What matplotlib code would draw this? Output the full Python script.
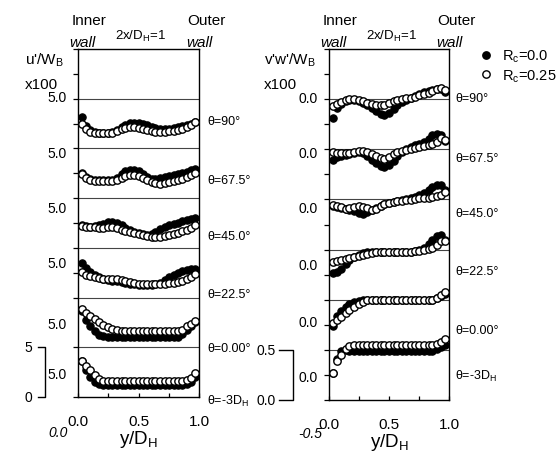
import numpy as np
import matplotlib
matplotlib.use("Agg")
from matplotlib import pyplot as plt
from matplotlib.ticker import FixedLocator, MultipleLocator

plt.rcParams['font.family'] = ['Liberation Sans', 'DejaVu Sans']
plt.rcParams['mathtext.default'] = 'regular'

# y/D_H positions of the measuring stations
yd = [0.03, 0.07, 0.10, 0.14, 0.17, 0.21, 0.25, 0.28, 0.32, 0.36, 0.39, 0.43, 0.46, 0.50,
      0.54, 0.57, 0.61, 0.64, 0.68, 0.72, 0.75, 0.79, 0.83, 0.86, 0.90, 0.93, 0.97]

stations = ['θ=-3D$_H$', 'θ=0.00°', 'θ=22.5°', 'θ=45.0°', 'θ=67.5°', 'θ=90°']

# u'/W_B x100, measured from the bottom of each band (bottom band first)
u_rc0 = [
    [3.6, 2.7, 2.0, 1.5, 1.3, 1.2, 1.2, 1.2, 1.2, 1.2, 1.2, 1.2, 1.2, 1.2,
     1.2, 1.2, 1.2, 1.2, 1.2, 1.2, 1.2, 1.2, 1.2, 1.2, 1.3, 1.5, 2.0],
    [3.6, 2.7, 2.1, 1.6, 1.2, 1.1, 1.0, 1.0, 1.0, 1.0, 1.0, 1.0, 1.0, 1.0,
     1.0, 1.0, 1.0, 1.0, 1.0, 1.0, 1.0, 1.0, 1.0, 1.3, 1.7, 2.1, 2.5],
    [3.5, 3.0, 2.6, 2.3, 2.1, 1.9, 1.8, 1.7, 1.7, 1.6, 1.5, 1.4, 1.4, 1.3,
     1.3, 1.3, 1.3, 1.4, 1.5, 1.8, 2.1, 2.3, 2.5, 2.7, 2.8, 2.9, 2.9],
    [2.3, 2.2, 2.1, 2.2, 2.3, 2.4, 2.6, 2.6, 2.5, 2.3, 2.0, 1.8, 1.6, 1.5,
     1.4, 1.3, 1.4, 1.6, 1.9, 2.1, 2.3, 2.4, 2.5, 2.7, 2.8, 2.9, 3.0],
    [2.5, 2.1, 1.9, 1.8, 1.8, 1.8, 1.8, 1.8, 2.0, 2.4, 2.7, 2.8, 2.8, 2.7,
     2.4, 2.1, 1.9, 1.9, 2.0, 2.1, 2.2, 2.3, 2.4, 2.5, 2.6, 2.8, 2.9],
    [3.2, 2.3, 1.9, 1.7, 1.6, 1.6, 1.6, 1.7, 1.9, 2.2, 2.4, 2.6, 2.6, 2.6,
     2.5, 2.4, 2.2, 2.1, 2.0, 2.0, 2.0, 2.1, 2.2, 2.3, 2.4, 2.5, 2.7],
]
u_rc25 = [
    [3.6, 3.1, 2.7, 2.2, 1.8, 1.6, 1.6, 1.6, 1.6, 1.6, 1.6, 1.6, 1.6, 1.6,
     1.6, 1.6, 1.6, 1.6, 1.6, 1.6, 1.6, 1.6, 1.6, 1.6, 1.7, 1.9, 2.4],
    [3.9, 3.4, 3.1, 2.8, 2.5, 2.2, 2.0, 1.8, 1.7, 1.6, 1.6, 1.6, 1.6, 1.6,
     1.6, 1.6, 1.6, 1.6, 1.6, 1.6, 1.6, 1.6, 1.6, 1.7, 2.1, 2.3, 2.6],
    [2.6, 2.3, 2.2, 2.1, 2.0, 1.9, 1.9, 1.9, 1.9, 1.8, 1.7, 1.6, 1.5, 1.4,
     1.4, 1.4, 1.4, 1.4, 1.4, 1.4, 1.5, 1.5, 1.6, 1.7, 1.9, 2.1, 2.4],
    [2.2, 2.1, 2.1, 2.1, 2.0, 2.0, 2.1, 2.1, 2.0, 1.8, 1.7, 1.6, 1.5, 1.4,
     1.3, 1.2, 1.1, 1.1, 1.1, 1.2, 1.3, 1.4, 1.5, 1.7, 1.8, 2.0, 2.3],
    [2.4, 2.0, 1.8, 1.7, 1.7, 1.7, 1.7, 1.7, 1.8, 2.0, 2.2, 2.3, 2.3, 2.2,
     2.0, 1.8, 1.6, 1.5, 1.4, 1.5, 1.6, 1.7, 1.8, 1.9, 2.1, 2.3, 2.5],
    [2.45, 2.0, 1.7, 1.6, 1.5, 1.5, 1.5, 1.6, 1.8, 2.0, 2.1, 2.2, 2.2, 2.1,
     2.0, 1.9, 1.8, 1.7, 1.7, 1.7, 1.8, 1.8, 1.9, 2.0, 2.2, 2.4, 2.7],
]

# v'w'/W_B x100, measured from the bottom of each band (bottom band first)
v_rc0 = [
    [0.27, 0.41, 0.49, 0.50, 0.49, 0.49, 0.49, 0.49, 0.49, 0.49, 0.49, 0.49, 0.49, 0.49,
     0.49, 0.49, 0.49, 0.49, 0.49, 0.49, 0.49, 0.49, 0.49, 0.49, 0.51, 0.53, 0.55],
    [0.24, 0.34, 0.39, 0.43, 0.46, 0.48, 0.49, 0.50, 0.50, 0.50, 0.50, 0.50, 0.50, 0.50,
     0.50, 0.50, 0.50, 0.50, 0.50, 0.50, 0.50, 0.50, 0.50, 0.50, 0.52, 0.54, 0.56],
    [0.27, 0.28, 0.31, 0.36, 0.40, 0.43, 0.45, 0.47, 0.48, 0.48, 0.48, 0.48, 0.48, 0.48,
     0.48, 0.48, 0.48, 0.48, 0.48, 0.49, 0.50, 0.52, 0.56, 0.60, 0.64, 0.65, 0.60],
    [0.43, 0.42, 0.41, 0.40, 0.39, 0.38, 0.36, 0.35, 0.37, 0.39, 0.41, 0.43, 0.45, 0.46,
     0.47, 0.48, 0.49, 0.50, 0.51, 0.52, 0.54, 0.56, 0.59, 0.62, 0.64, 0.64, 0.59],
    [0.39, 0.42, 0.43, 0.44, 0.45, 0.46, 0.47, 0.46, 0.43, 0.39, 0.36, 0.33, 0.32, 0.34,
     0.38, 0.43, 0.47, 0.50, 0.52, 0.54, 0.55, 0.57, 0.60, 0.64, 0.65, 0.64, 0.58],
    [0.31, 0.41, 0.45, 0.48, 0.49, 0.49, 0.48, 0.46, 0.44, 0.41, 0.38, 0.35, 0.34, 0.36,
     0.40, 0.44, 0.47, 0.49, 0.51, 0.53, 0.55, 0.57, 0.58, 0.59, 0.60, 0.60, 0.57],
]
v_rc25 = [
    [0.27, 0.39, 0.45, 0.51, 0.54, 0.55, 0.55, 0.55, 0.55, 0.55, 0.55, 0.55, 0.55, 0.55,
     0.55, 0.55, 0.55, 0.55, 0.55, 0.55, 0.55, 0.55, 0.55, 0.55, 0.56, 0.58, 0.61],
    [0.27, 0.30, 0.33, 0.37, 0.40, 0.43, 0.46, 0.48, 0.50, 0.50, 0.50, 0.50, 0.50, 0.50,
     0.50, 0.50, 0.50, 0.50, 0.50, 0.50, 0.50, 0.50, 0.50, 0.50, 0.52, 0.55, 0.58],
    [0.38, 0.39, 0.40, 0.41, 0.42, 0.43, 0.44, 0.45, 0.46, 0.47, 0.48, 0.48, 0.48, 0.48,
     0.48, 0.48, 0.48, 0.48, 0.48, 0.49, 0.49, 0.50, 0.51, 0.52, 0.55, 0.59, 0.59],
    [0.44, 0.43, 0.42, 0.40, 0.41, 0.42, 0.43, 0.42, 0.41, 0.39, 0.40, 0.43, 0.45, 0.46,
     0.47, 0.48, 0.48, 0.49, 0.49, 0.50, 0.51, 0.51, 0.51, 0.52, 0.53, 0.54, 0.57],
    [0.47, 0.46, 0.46, 0.46, 0.46, 0.47, 0.48, 0.48, 0.47, 0.45, 0.43, 0.41, 0.40, 0.42,
     0.45, 0.47, 0.48, 0.49, 0.50, 0.51, 0.52, 0.53, 0.54, 0.55, 0.57, 0.61, 0.59],
    [0.43, 0.45, 0.47, 0.49, 0.50, 0.50, 0.49, 0.48, 0.46, 0.45, 0.44, 0.44, 0.44, 0.46,
     0.48, 0.49, 0.50, 0.51, 0.51, 0.52, 0.54, 0.55, 0.56, 0.58, 0.60, 0.61, 0.59],
]

# where the "5.0" / "0.0" offsets are written on each panel
u_label_pos = [2.5, 7.5, 13.6, 19.2, 24.7, 30.3]
v_label_pos = [0.24, 0.79, 1.36, 1.93, 2.48, 3.03]

fig = plt.figure(figsize=(5.6, 4.56), dpi=100)
ax1 = fig.add_axes([0.1393, 0.1272, 0.2161, 0.7632])
ax2 = fig.add_axes([0.5875, 0.1206, 0.2143, 0.7697])


def draw_panel(ax, filled, hollow, band, label_pos, label_txt):
    nb = len(filled) + 1
    ax.set_xlim(0, 1)
    ax.set_ylim(0, band * nb)
    for k in range(1, nb):
        ax.axhline(band * k, color='#444444', lw=0.8, zorder=1)
    for k, (f, h) in enumerate(zip(filled, hollow)):
        off = band * k
        ax.plot(yd, np.array(f) + off, 'o', ms=5.3, mfc='black', mec='black',
                mew=0.8, zorder=3, clip_on=False)
        ax.plot(yd, np.array(h) + off, 'o', ms=5.3, mfc='white', mec='black',
                mew=1.0, zorder=4, clip_on=False)
    ax.yaxis.set_major_locator(FixedLocator(label_pos))
    ax.set_yticklabels([label_txt] * len(label_pos))
    ax.yaxis.set_minor_locator(MultipleLocator(band / 2))
    ax.tick_params(axis='y', which='major', length=0, pad=8, labelsize=10)
    ax.tick_params(axis='y', which='minor', length=3.5, width=0.9, direction='out')
    ax.set_xticks([0, 0.5, 1.0])
    ax.set_xticklabels(['0.0', '0.5', '1.0'])
    ax.xaxis.set_minor_locator(FixedLocator([0.25, 0.75]))
    ax.tick_params(axis='x', which='both', direction='in', length=3, width=0.9,
                   pad=12, labelsize=11)
    for s in ax.spines.values():
        s.set_linewidth(1.0)
    ax.set_xlabel('y/D$_H$', fontsize=13.5, labelpad=0)


draw_panel(ax1, u_rc0, u_rc25, 5.0, u_label_pos, '5.0')
draw_panel(ax2, v_rc0, v_rc25, 0.5, v_label_pos, '0.0')

# station names to the right of each panel
u_st_y = [-0.3, 4.9, 10.4, 16.2, 21.8, 27.8]
v_st_y = [0.24, 0.70, 1.29, 1.86, 2.41, 3.01]
for name, y in zip(stations, u_st_y):
    ax1.text(1.07, y, name, fontsize=9, va='center', ha='left')
for name, y in zip(stations, v_st_y):
    ax2.text(1.05, y, name, fontsize=9, va='center', ha='left')

# scale brackets
ax1.plot([-0.33, -0.27, -0.27, -0.33], [5, 5, 0, 0], color='black', lw=1,
         clip_on=False)
ax1.text(-0.38, 5, '5', fontsize=10, ha='right', va='center')
ax1.text(-0.38, 0, '0', fontsize=10, ha='right', va='center')
ax2.plot([-0.42, -0.30, -0.30, -0.42], [0.5, 0.5, 0, 0], color='black', lw=1,
         clip_on=False)
ax2.text(-0.44, 0.5, '0.5', fontsize=10, ha='right', va='center')
ax2.text(-0.44, 0.0, '0.0', fontsize=10, ha='right', va='center')

# headings
for ax in (ax1, ax2):
    ax.text(0.09, 1.072, 'Inner', transform=ax.transAxes, fontsize=11, ha='center')
    ax.text(0.04, 1.008, 'wall', transform=ax.transAxes, fontsize=11,
            style='italic', ha='center')
    ax.text(1.06, 1.072, 'Outer', transform=ax.transAxes, fontsize=11, ha='center')
    ax.text(1.0, 1.008, 'wall', transform=ax.transAxes, fontsize=11,
            style='italic', ha='center')
    ax.text(0.52, 1.03, '2x/D$_H$=1', transform=ax.transAxes, fontsize=9.5,
            ha='center')

fig.text(25 / 560, 1 - 65 / 456, "u'/W$_B$", fontsize=11)
fig.text(25 / 560, 1 - 89 / 456, 'x100', fontsize=11)
fig.text(264 / 560, 1 - 65 / 456, "v'w'/W$_B$", fontsize=11)
fig.text(264 / 560, 1 - 89 / 456, 'x100', fontsize=11)

fig.text(58 / 560, 1 - 433 / 456, '0.0', fontsize=10, style='italic',
         ha='center', va='center')
fig.text(310 / 560, 1 - 434 / 456, '-0.5', fontsize=10, style='italic',
         ha='center', va='center')

h0, = ax2.plot([], [], 'o', ms=5.3, mfc='black', mec='black')
h1, = ax2.plot([], [], 'o', ms=5.3, mfc='white', mec='black', mew=1.0)
fig.legend([h0, h1], ['R$_c$=0.0', 'R$_c$=0.25'], loc='upper left',
           bbox_to_anchor=(0.855, 0.893), frameon=False, fontsize=10.5,
           handlelength=1.0, handletextpad=0.6, labelspacing=0.2,
           borderpad=0, borderaxespad=0)

fig.savefig('out.png', dpi=100)
